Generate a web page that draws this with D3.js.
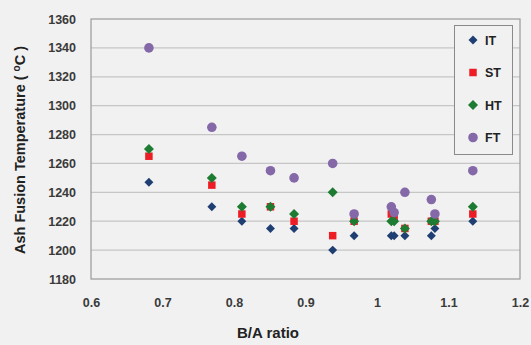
<!DOCTYPE html>
<html>
<head>
<meta charset="utf-8">
<script src="https://cdn.jsdelivr.net/npm/d3@7"></script>
<style>
  html, body { margin: 0; padding: 0; background: #f1f1f1; }
  svg { display: block; }
  text { font-family: "Liberation Sans", Arial, sans-serif; }
</style>
</head>
<body>
<svg id="chart" width="531" height="345"></svg>
<script>
// Base/acid ratio of each ash sample
const baRatio = [0.681, 0.769, 0.811, 0.851, 0.884, 0.938, 0.968, 1.020, 1.024, 1.039, 1.076, 1.081, 1.134];
// Characteristic ash fusion temperatures (°C)
const itValues = [1247, 1230, 1220, 1215, 1215, 1200, 1210, 1210, 1210, 1210, 1210, 1215, 1220];
const stValues = [1265, 1245, 1225, 1230, 1220, 1210, 1220, 1225, 1223, 1215, 1220, 1220, 1225];
const htValues = [1270, 1250, 1230, 1230, 1225, 1240, 1220, 1220, 1220, 1215, 1220, 1220, 1230];
const ftValues = [1340, 1285, 1265, 1255, 1250, 1260, 1225, 1230, 1226, 1240, 1235, 1225, 1255];

const xTicks = [0.6, 0.7, 0.8, 0.9, 1, 1.1, 1.2];
const yTicks = [1180, 1200, 1220, 1240, 1260, 1280, 1300, 1320, 1340, 1360];

// a square turned 45°, as spreadsheet charts draw their diamonds
const squareDiamond = {
  draw(ctx, size) {
    const r = Math.sqrt(size / 2);
    ctx.moveTo(0, -r);
    ctx.lineTo(r, 0);
    ctx.lineTo(0, r);
    ctx.lineTo(-r, 0);
    ctx.closePath();
  }
};

const seriesNames = ["IT", "ST", "HT", "FT"];
const seriesValues = [itValues, stValues, htValues, ftValues];
const seriesColors = ["#1f3f73", "#ee1c24", "#1e7b32", "#8468a8"];
const seriesShapes = [squareDiamond, d3.symbolSquare, squareDiamond, d3.symbolCircle];
const seriesSizes = [40, 56, 50, 72];

const svg = d3.select("#chart");
const plot = { left: 91, top: 19, right: 520, bottom: 279 };

const x = d3.scaleLinear().domain([0.6, 1.2]).range([plot.left, plot.right]);
const y = d3.scaleLinear().domain([1180, 1360]).range([plot.bottom, plot.top]);

// horizontal gridlines
svg.append("g")
  .selectAll("line")
  .data(yTicks.slice(1, -1))
  .join("line")
  .attr("x1", plot.left).attr("x2", plot.right)
  .attr("y1", d => y(d)).attr("y2", d => y(d))
  .attr("stroke", "#c6c6c6").attr("stroke-width", 1.2);

// plot frame
svg.append("rect")
  .attr("x", plot.left).attr("y", plot.top)
  .attr("width", plot.right - plot.left).attr("height", plot.bottom - plot.top)
  .attr("fill", "none").attr("stroke", "#9a9a9a").attr("stroke-width", 1.2);

// axes (labels only)
const yAxis = svg.append("g")
  .attr("transform", `translate(${plot.left},0)`)
  .call(d3.axisLeft(y).tickValues(yTicks).tickSize(0).tickPadding(15).tickFormat(d3.format("d")));
const xAxis = svg.append("g")
  .attr("transform", `translate(0,${plot.bottom})`)
  .call(d3.axisBottom(x).tickValues(xTicks).tickSize(0).tickPadding(19).tickFormat(d => String(d)));
[yAxis, xAxis].forEach(a => {
  a.select(".domain").remove();
  a.selectAll("text")
    .attr("fill", "#3a3a3a")
    .style("font-size", "12.5px")
    .style("font-weight", "bold")
    .style("font-family", "'Liberation Sans', Arial, sans-serif");
});

// markers
seriesValues.forEach((vals, i) => {
  svg.append("g")
    .selectAll("path")
    .data(vals.map((v, j) => [baRatio[j], v]))
    .join("path")
    .attr("transform", d => `translate(${x(d[0])},${y(d[1])})`)
    .attr("d", d3.symbol().type(seriesShapes[i]).size(seriesSizes[i]))
    .attr("fill", seriesColors[i]);
});

// legend
const legend = svg.append("g");
legend.append("rect")
  .attr("x", 454.5).attr("y", 25.5).attr("width", 58).attr("height", 129)
  .attr("fill", "#f1f1f1").attr("stroke", "#8a8a8a").attr("stroke-width", 1);
seriesNames.forEach((name, i) => {
  const cy = 40 + i * 32.5;
  legend.append("path")
    .attr("transform", `translate(473,${cy})`)
    .attr("d", d3.symbol().type(seriesShapes[i]).size(seriesSizes[i]))
    .attr("fill", seriesColors[i]);
  legend.append("text")
    .attr("x", 485).attr("y", cy + 4.5)
    .attr("fill", "#222")
    .style("font-size", "12.5px").style("font-weight", "bold")
    .text(name);
});

// axis titles
const yTitle = svg.append("text")
  .attr("transform", `translate(25,${(plot.top + plot.bottom) / 2 + 1}) rotate(-90)`)
  .attr("text-anchor", "middle")
  .attr("fill", "#222")
  .style("font-size", "14.5px").style("font-weight", "bold");
yTitle.append("tspan").text("Ash Fusion Temperature ( ");
yTitle.append("tspan").attr("dy", -5).style("font-size", "10px").text("o");
yTitle.append("tspan").attr("dy", 5).text("C )");

svg.append("text")
  .attr("x", 268).attr("y", 338)
  .attr("text-anchor", "middle")
  .attr("fill", "#222")
  .style("font-size", "15px").style("font-weight", "bold")
  .text("B/A ratio");
</script>
</body>
</html>
